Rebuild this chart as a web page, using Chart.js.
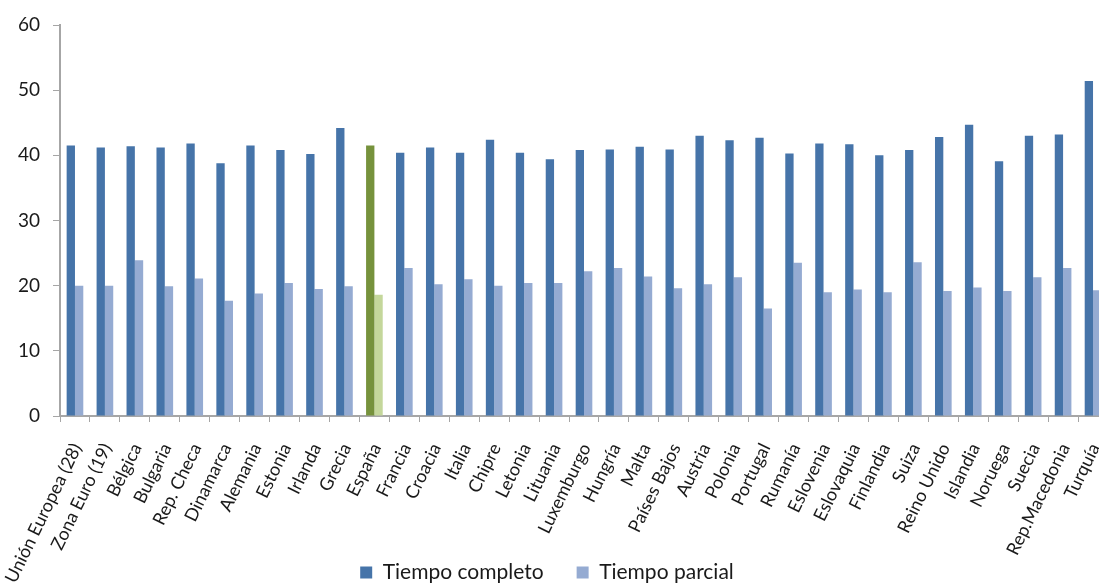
<!DOCTYPE html>
<html>
<head>
<meta charset="utf-8">
<script src="https://cdn.jsdelivr.net/npm/chart.js@4"></script>
<style>
  html, body { margin: 0; padding: 0; overflow: hidden; background: #fff; }
  #wrap { position: relative; width: 1110px; height: 593px; }
</style>
</head>
<body>
<div id="wrap"><canvas id="c"></canvas></div>
<script>
const categories = ['Unión Europea (28)', 'Zona Euro (19)', 'Bélgica', 'Bulgaria', 'Rep. Checa', 'Dinamarca', 'Alemania', 'Estonia', 'Irlanda', 'Grecia', 'España', 'Francia', 'Croacia', 'Italia', 'Chipre', 'Letonia', 'Lituania', 'Luxemburgo', 'Hungría', 'Malta', 'Países Bajos', 'Austria', 'Polonia', 'Portugal', 'Rumanía', 'Eslovenia', 'Eslovaquia', 'Finlandia', 'Suiza', 'Reino Unido', 'Islandia', 'Noruega', 'Suecia', 'Rep.Macedonia', 'Turquía'];
const tiempoCompleto = [41.5, 41.2, 41.4, 41.2, 41.8, 38.8, 41.5, 40.8, 40.2, 44.2, 41.5, 40.4, 41.2, 40.4, 42.4, 40.4, 39.4, 40.8, 40.9, 41.3, 40.9, 43.0, 42.3, 42.7, 40.3, 41.8, 41.7, 40.0, 40.8, 42.8, 44.7, 39.1, 43.0, 43.2, 51.4];
const tiempoParcial = [20.0, 20.0, 23.9, 19.9, 21.1, 17.7, 18.8, 20.4, 19.5, 19.9, 18.6, 22.7, 20.2, 21.0, 20.0, 20.4, 20.4, 22.2, 22.7, 21.4, 19.6, 20.2, 21.3, 16.5, 23.5, 19.0, 19.4, 19.0, 23.6, 19.2, 19.7, 19.2, 21.3, 22.7, 19.3];
const seriesNames = ['Tiempo completo', 'Tiempo parcial'];
const yTicks = [0, 10, 20, 30, 40, 50, 60];
const highlightCategory = 'España';

const BLUE = '#4674A9', LIGHT_BLUE = '#95ABD2', GREEN = '#76923C', LIGHT_GREEN = '#C4D79B';
const AXIS = '#A6A6A6';
const FONT = 'Lato, "Open Sans", sans-serif';

function colorFor(base, hi) {
  return (ctx) => (ctx.dataIndex !== undefined && categories[ctx.dataIndex] === highlightCategory) ? hi : base;
}

// let the rotated category labels run below the axis box (into the legend band) without clipping,
// and nudge the legend slightly left like the original
const layoutTweaks = {
  id: 'layoutTweaks',
  afterLayout(chart) {
    chart.scales.x.bottom = chart.height;
    if (chart.legend) { chart.legend.left -= 7; chart.legend.right -= 7; }
  }
};

new Chart(document.getElementById('c'), {
  type: 'bar',
  data: {
    labels: categories,
    datasets: [
      { label: seriesNames[0], data: tiempoCompleto, backgroundColor: colorFor(BLUE, GREEN),
        categoryPercentage: 0.556, barPercentage: 1.0, borderWidth: 0 },
      { label: seriesNames[1], data: tiempoParcial, backgroundColor: colorFor(LIGHT_BLUE, LIGHT_GREEN),
        categoryPercentage: 0.556, barPercentage: 1.0, borderWidth: 0 }
    ]
  },
  plugins: [layoutTweaks],
  options: {
    responsive: true,
    maintainAspectRatio: false,
    animation: false,
    devicePixelRatio: 1,
    layout: { padding: { left: 0, right: 2, top: 25, bottom: 0 } },
    plugins: {
      tooltip: { enabled: false },
      legend: {
        position: 'bottom',
        labels: {
          boxWidth: 12, boxHeight: 12, padding: 33,
          color: '#1a1a1a',
          font: { family: FONT, size: 21 }
        }
      }
    },
    scales: {
      x: {
        offset: true,
        grid: { display: true, drawOnChartArea: false, drawTicks: true, tickLength: 6, color: AXIS, offset: true },
        border: { display: true, color: AXIS, width: 2 },
        ticks: {
          autoSkip: false, minRotation: 64, maxRotation: 64, padding: 18, labelOffset: 2,
          color: '#1a1a1a', font: { family: FONT, size: 18 }
        },
        afterFit: (s) => { s.height = 113; s.paddingLeft = 0; s.paddingRight = 0; }
      },
      y: {
        min: 0, max: 60,
        afterBuildTicks: (s) => { s.ticks = yTicks.map(v => ({ value: v })); },
        grid: { display: true, drawOnChartArea: false, drawTicks: true, tickLength: 7, color: AXIS },
        border: { display: true, color: AXIS, width: 2 },
        ticks: { padding: 13, color: '#1a1a1a', font: { family: FONT, size: 19 } },
        afterFit: (s) => { s.width = 60; }
      }
    }
  }
});
</script>
</body>
</html>
